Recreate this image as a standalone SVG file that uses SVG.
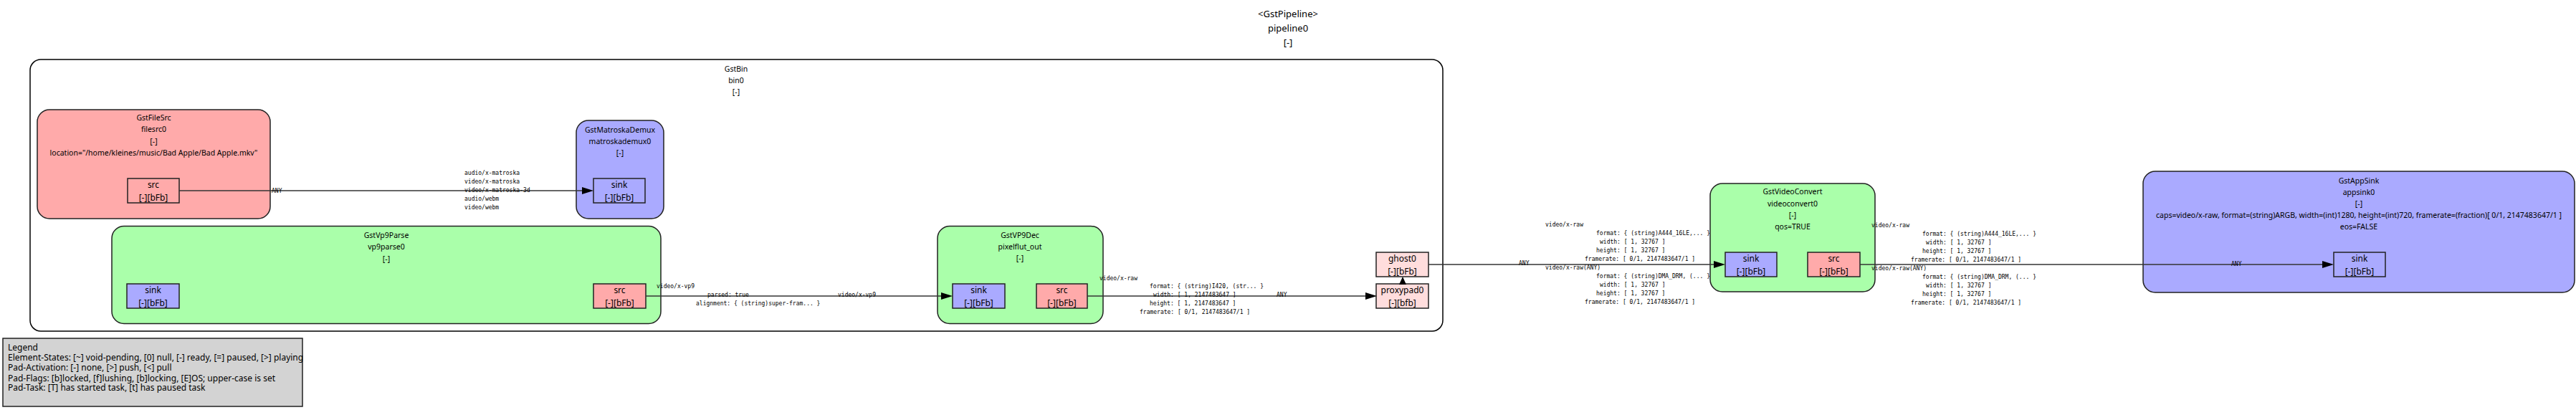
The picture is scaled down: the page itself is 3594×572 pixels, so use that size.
<svg xmlns="http://www.w3.org/2000/svg" width="3594" height="572" viewBox="0 0 3594 572">
<style>
.t{font-family:"Noto Sans","DejaVu Sans",sans-serif;font-size:10.5px;fill:#000;text-anchor:middle;dominant-baseline:central}
.tt{font-family:"Noto Sans","DejaVu Sans",sans-serif;font-size:13px;fill:#000;text-anchor:middle;dominant-baseline:central}
.pt{font-family:"Noto Sans","DejaVu Sans",sans-serif;font-size:12px;fill:#000;text-anchor:middle;dominant-baseline:central}
.lg{font-family:"Noto Sans","DejaVu Sans",sans-serif;font-size:12px;fill:#000;dominant-baseline:central}
.m{font-family:"DejaVu Sans Mono","Liberation Mono",monospace;font-size:8px;fill:#000;dominant-baseline:central}
.el{stroke:#222;stroke-width:1.5}
.src{fill:#ffaaaa}.snk{fill:#aaaaff}.flt{fill:#aaffaa}
.pad{stroke:#222;stroke-width:1.5}
.gp{fill:#ffdddd}
.e{stroke:#333;stroke-width:1.6;fill:none}
.ah{fill:#000}
</style>
<g id="title">
<text class="tt" x="1797" y="19">&lt;GstPipeline&gt;</text>
<text class="tt" x="1797" y="39">pipeline0</text>
<text class="tt" x="1797" y="59">[-]</text>
</g>
<g id="bin0">
<rect x="42" y="83" width="1971" height="379" rx="15" ry="15" fill="#fff" stroke="#000" stroke-width="1.5"/>
<text class="t" x="1027" y="96">GstBin</text>
<text class="t" x="1027" y="112">bin0</text>
<text class="t" x="1027" y="128">[-]</text>
</g>
<g id="filesrc0">
<rect class="el src" x="52" y="153" width="325" height="152" rx="17"/>
<text class="t" x="214.5" y="164">GstFileSrc</text>
<text class="t" x="214.5" y="180">filesrc0</text>
<text class="t" x="214.5" y="197">[-]</text>
<text class="t" x="214.5" y="213">location="/home/kleines/music/Bad Apple/Bad Apple.mkv"</text>
<g id="filesrc0_src"><rect class="pad src" x="178" y="249" width="72" height="34"/>
<text class="pt" x="214" y="257">src</text><text class="pt" x="214" y="275">[-][bFb]</text></g>
</g>
<g id="matroskademux0">
<rect class="el snk" x="804" y="168" width="122" height="137" rx="17"/>
<text class="t" x="865" y="181">GstMatroskaDemux</text>
<text class="t" x="865" y="197">matroskademux0</text>
<text class="t" x="865" y="213">[-]</text>
<g id="matroskademux0_sink"><rect class="pad snk" x="828" y="249" width="72" height="34"/>
<text class="pt" x="864" y="257">sink</text><text class="pt" x="864" y="275">[-][bFb]</text></g>
</g>
<g id="vp9parse0">
<rect class="el flt" x="156" y="315.5" width="766" height="136" rx="17"/>
<text class="t" x="539" y="328">GstVp9Parse</text>
<text class="t" x="539" y="344">vp9parse0</text>
<text class="t" x="539" y="361">[-]</text>
<g id="vp9parse0_sink"><rect class="pad snk" x="177" y="396" width="73" height="34"/>
<text class="pt" x="213.5" y="404">sink</text><text class="pt" x="213.5" y="422">[-][bFb]</text></g>
<g id="vp9parse0_src"><rect class="pad src" x="828" y="396" width="73" height="34"/>
<text class="pt" x="864.5" y="404">src</text><text class="pt" x="864.5" y="422">[-][bFb]</text></g>
</g>
<g id="pixelflut_out">
<rect class="el flt" x="1308" y="315.5" width="231" height="136" rx="17"/>
<text class="t" x="1423" y="328">GstVP9Dec</text>
<text class="t" x="1423" y="344">pixelflut_out</text>
<text class="t" x="1423" y="360">[-]</text>
<g id="pixelflut_out_sink"><rect class="pad snk" x="1329" y="396" width="73" height="34"/>
<text class="pt" x="1365.5" y="404">sink</text><text class="pt" x="1365.5" y="422">[-][bFb]</text></g>
<g id="pixelflut_out_src"><rect class="pad src" x="1446" y="396" width="71" height="34"/>
<text class="pt" x="1481.5" y="404">src</text><text class="pt" x="1481.5" y="422">[-][bFb]</text></g>
</g>
<g id="ghost0">
<rect class="pad gp" x="1920" y="352" width="73" height="34"/>
<text class="pt" x="1956.5" y="360">ghost0</text><text class="pt" x="1956.5" y="378">[-][bFb]</text>
</g>
<g id="proxypad0">
<rect class="pad gp" x="1920" y="396" width="73" height="34"/>
<text class="pt" x="1956.5" y="404">proxypad0</text><text class="pt" x="1956.5" y="422">[-][bfb]</text>
</g>
<g id="videoconvert0">
<rect class="el flt" x="2386" y="256" width="230" height="151" rx="17"/>
<text class="t" x="2501" y="267">GstVideoConvert</text>
<text class="t" x="2501" y="284">videoconvert0</text>
<text class="t" x="2501" y="300">[-]</text>
<text class="t" x="2501" y="316">qos=TRUE</text>
<g id="videoconvert0_sink"><rect class="pad snk" x="2407" y="352" width="72" height="34"/>
<text class="pt" x="2443" y="360">sink</text><text class="pt" x="2443" y="378">[-][bFb]</text></g>
<g id="videoconvert0_src"><rect class="pad src" x="2522" y="352" width="73" height="34"/>
<text class="pt" x="2558.5" y="360">src</text><text class="pt" x="2558.5" y="378">[-][bFb]</text></g>
</g>
<g id="appsink0">
<rect class="el snk" x="2990" y="239" width="602" height="169" rx="17"/>
<text class="t" x="3291" y="252">GstAppSink</text>
<text class="t" x="3291" y="268">appsink0</text>
<text class="t" x="3291" y="284">[-]</text>
<text class="t" x="3291" y="300">caps=video/x-raw, format=(string)ARGB, width=(int)1280, height=(int)720, framerate=(fraction)[ 0/1, 2147483647/1 ]</text>
<text class="t" x="3291" y="316">eos=FALSE</text>
<g id="appsink0_sink"><rect class="pad snk" x="3256" y="352" width="72" height="34"/>
<text class="pt" x="3292" y="360">sink</text><text class="pt" x="3292" y="378">[-][bFb]</text></g>
</g>
<g id="connectors">
<path class="e" d="M250,266 H814"/><polygon class="ah" points="828,266 812,261 812,271"/>
<text class="m" x="379" y="266">ANY</text>
<text class="m" x="648" y="241">audio/x-matroska</text>
<text class="m" x="648" y="253">video/x-matroska</text>
<text class="m" x="648" y="265">video/x-matroska-3d</text>
<text class="m" x="648" y="277">audio/webm</text>
<text class="m" x="648" y="289">video/webm</text>

<path class="e" d="M901,413 H1315"/><polygon class="ah" points="1329,413 1313,408 1313,418"/>
<text class="m" x="916" y="399">video/x-vp9</text>
<text class="m" x="987" y="411">parsed: true</text>
<text class="m" x="971" y="423">alignment: { (string)super-fram... }</text>
<text class="m" x="1169" y="411">video/x-vp9</text>

<path class="e" d="M1517,413 H1907"/><polygon class="ah" points="1921,413 1905,408 1905,418"/>
<text class="m" x="1534" y="388">video/x-raw</text>
<text class="m" x="1604" y="399">format: { (string)I420, (str... }</text>
<text class="m" x="1609" y="411">width: [ 1, 2147483647 ]</text>
<text class="m" x="1604" y="423">height: [ 1, 2147483647 ]</text>
<text class="m" x="1590" y="435">framerate: [ 0/1, 2147483647/1 ]</text>
<text class="m" x="1781" y="411">ANY</text>

<polygon class="ah" points="1957,386 1952,397 1962,397"/>

<path class="e" d="M1993,369 H2393"/><polygon class="ah" points="2407,369 2391,364 2391,374"/>
<text class="m" x="2119" y="367">ANY</text>
<text class="m" x="2156" y="313">video/x-raw</text>
<text class="m" x="2227" y="325">format: { (string)A444_16LE,... }</text>
<text class="m" x="2232" y="337">width: [ 1, 32767 ]</text>
<text class="m" x="2227" y="349">height: [ 1, 32767 ]</text>
<text class="m" x="2211" y="361">framerate: [ 0/1, 2147483647/1 ]</text>
<text class="m" x="2156" y="373">video/x-raw(ANY)</text>
<text class="m" x="2227" y="385">format: { (string)DMA_DRM, (... }</text>
<text class="m" x="2232" y="397">width: [ 1, 32767 ]</text>
<text class="m" x="2227" y="409">height: [ 1, 32767 ]</text>
<text class="m" x="2211" y="421">framerate: [ 0/1, 2147483647/1 ]</text>

<path class="e" d="M2595,369 H3242"/><polygon class="ah" points="3256,369 3240,364 3240,374"/>
<text class="m" x="2611" y="314">video/x-raw</text>
<text class="m" x="2682" y="326">format: { (string)A444_16LE,... }</text>
<text class="m" x="2687" y="338">width: [ 1, 32767 ]</text>
<text class="m" x="2682" y="350">height: [ 1, 32767 ]</text>
<text class="m" x="2666" y="362">framerate: [ 0/1, 2147483647/1 ]</text>
<text class="m" x="2611" y="374">video/x-raw(ANY)</text>
<text class="m" x="2682" y="386">format: { (string)DMA_DRM, (... }</text>
<text class="m" x="2687" y="398">width: [ 1, 32767 ]</text>
<text class="m" x="2682" y="410">height: [ 1, 32767 ]</text>
<text class="m" x="2666" y="422">framerate: [ 0/1, 2147483647/1 ]</text>
<text class="m" x="3113" y="368">ANY</text>
</g>
<g id="legend">
<rect x="4" y="472" width="418" height="95" fill="#d3d3d3" stroke="#222" stroke-width="1.5"/>
<text class="lg" x="11" y="484">Legend</text>
<text class="lg" x="11" y="498">Element-States: [~] void-pending, [0] null, [-] ready, [=] paused, [&gt;] playing</text>
<text class="lg" x="11" y="512">Pad-Activation: [-] none, [&gt;] push, [&lt;] pull</text>
<text class="lg" x="11" y="527">Pad-Flags: [b]locked, [f]lushing, [b]locking, [E]OS; upper-case is set</text>
<text class="lg" x="11" y="540">Pad-Task: [T] has started task, [t] has paused task</text>
</g>
</svg>
